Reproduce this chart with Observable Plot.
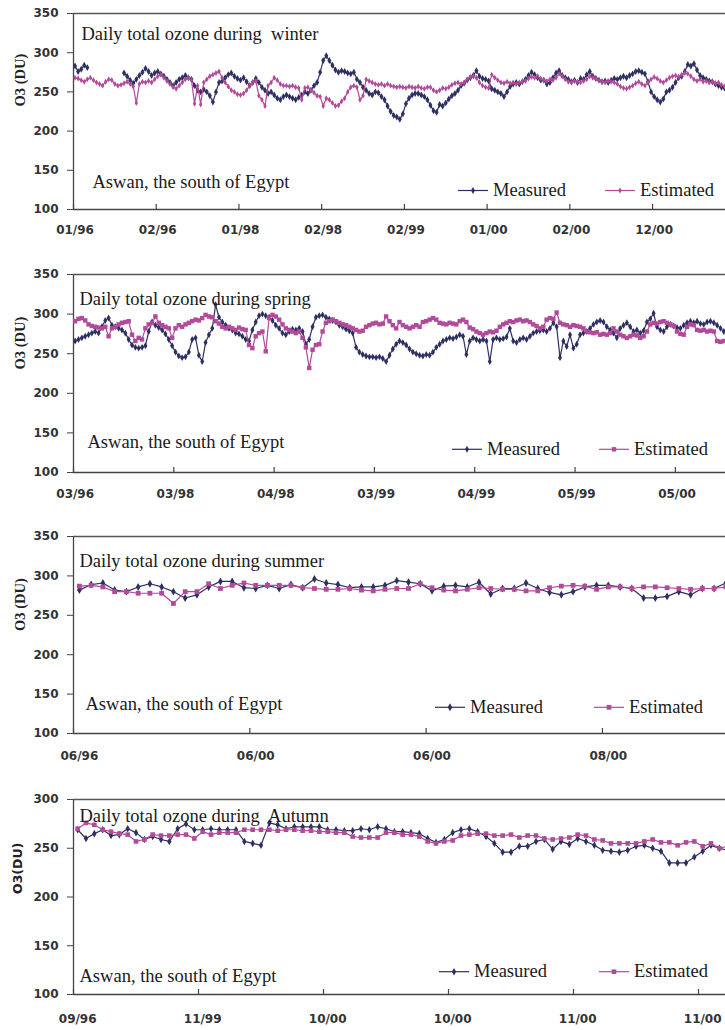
<!DOCTYPE html>
<html><head><meta charset="utf-8">
<script src="https://cdn.jsdelivr.net/npm/d3@7"></script>
<script src="https://cdn.jsdelivr.net/npm/@observablehq/plot@0.6"></script>
<style>
html,body{margin:0;padding:0;background:#fff;}
#wrap{position:relative;width:725px;height:1030px;overflow:hidden;background:#fff;}
.panel{position:absolute;left:0;}
</style></head><body><div id="wrap"></div>
<script>
// ---------- DATA ----------
const seriesNames = ["Measured", "Estimated"];
const placeText = "Aswan, the south of Egypt";

const winterLabels = ["01/96","02/96","01/98","02/98","02/99","01/00","02/00","12/00"];
const winterMeasured = [283,276,279,284,281,
 null,null,null,null,null,null,null,null,null,null,null,
 274,270,265,261,266,271,275,280,276,271,274,276,273,270,266,
 262,258,262,266,268,271,268,266,258,252,250,253,250,245,237,
 250,262,264,268,272,274,270,267,265,268,263,258,262,267,262,
 256,252,248,250,246,242,240,244,246,244,242,240,243,246,250,
 248,252,258,262,275,290,296,290,284,278,275,277,276,274,273,
 275,266,262,256,252,248,246,250,249,244,240,232,225,220,218,
 215,222,235,242,246,248,248,246,244,240,233,226,224,234,232,
 236,241,245,248,252,258,261,265,268,271,277,270,267,266,264,
 254,252,250,248,244,250,257,260,262,260,263,266,271,275,272,
 268,265,265,260,262,268,274,277,271,268,266,263,265,262,267,
 266,272,276,270,267,265,263,264,262,265,267,266,268,270,268,
 271,273,276,277,275,273,263,250,244,240,237,241,250,252,256,
 262,268,270,276,285,283,286,278,271,268,266,264,263,260,258,
 256,255,253,254];
const winterEstimated = [268,267,265,263,266,268,265,262,260,258,263,266,265,260,258,
 259,261,263,260,257,236,260,263,262,264,262,266,270,272,268,
 264,260,256,254,258,262,266,268,265,235,258,234,262,266,270,
 272,274,276,268,262,257,252,250,247,246,248,252,258,262,264,
 245,240,232,258,262,268,265,260,258,258,257,258,256,255,240,
 255,256,252,249,245,244,232,242,240,236,232,233,238,242,250,
 256,258,256,240,245,266,264,262,260,259,260,258,260,258,257,
 256,257,256,255,257,256,255,257,255,254,256,256,252,250,252,
 255,254,256,259,261,262,260,262,266,269,270,268,262,258,256,
 255,272,268,265,262,261,263,261,262,260,262,263,264,267,269,
 268,270,267,265,264,266,265,268,273,270,266,263,262,264,263,
 262,264,266,270,268,267,265,263,262,264,263,262,260,257,255,
 254,256,258,261,263,260,258,262,266,269,267,264,262,265,268,
 270,271,269,272,274,273,270,266,264,266,263,264,262,263,261,
 262,259,257,256,255];

const springLabels = ["03/96","03/98","04/98","03/99","04/99","05/99","05/00"];
const springMeasured = [266,268,270,272,274,276,278,276,284,292,295,286,284,282,280,
 276,268,261,258,257,258,260,278,290,286,283,280,275,268,260,
 252,247,245,246,252,268,270,248,240,264,274,282,312,296,290,
 286,282,280,276,275,272,268,266,280,290,298,300,298,296,292,
 286,282,276,274,278,281,280,282,278,262,268,284,296,298,299,
 296,294,292,290,286,284,281,279,276,258,252,249,247,246,246,
 245,246,244,240,248,256,262,266,264,261,256,252,250,248,247,
 249,248,252,258,262,266,268,270,269,271,274,272,249,266,270,
 268,266,268,266,240,268,270,268,269,271,282,266,264,268,270,
 268,272,276,278,279,280,278,282,289,284,245,266,259,274,257,
 262,274,276,278,282,287,290,292,290,284,280,276,270,282,286,
 289,284,278,280,276,279,290,294,301,284,280,278,284,287,285,
 283,282,286,289,291,289,291,288,287,290,291,289,286,282,278,280];
const springEstimated = [291,294,295,292,287,285,284,283,282,284,272,282,284,287,289,
 290,291,274,266,270,268,282,287,289,297,289,286,284,282,270,
 282,286,284,287,289,291,293,292,295,299,297,296,291,288,284,
 282,284,282,280,283,281,280,261,257,272,276,278,253,295,299,
 297,293,287,282,280,278,276,278,270,258,232,255,261,262,278,
 289,291,293,291,289,287,286,284,282,280,278,279,284,286,288,
 289,287,288,297,291,286,282,290,286,284,282,284,286,284,290,
 291,293,295,293,289,288,287,289,288,287,291,293,290,283,281,
 278,276,274,276,278,277,279,284,287,289,291,290,292,293,291,
 292,290,287,285,282,284,293,295,294,302,289,287,286,284,286,
 285,284,282,278,277,276,277,274,275,274,276,282,278,274,272,
 270,272,274,273,270,272,278,287,289,288,290,291,289,287,285,
 278,275,274,284,287,286,280,279,280,278,279,278,266,265,266,265];

const summerLabels = ["06/96","06/00","06/00","08/00"];
const summerMeasured = [282,289,291,282,280,286,290,286,280,272,276,286,293,293,285,
 284,288,284,289,285,296,291,289,285,286,286,288,294,292,290,
 281,287,288,286,292,277,284,284,291,284,279,276,280,286,288,
 288,286,284,272,272,274,280,276,284,284,291];
const summerEstimated = [287,288,286,280,280,278,278,278,265,280,280,290,284,288,291,
 288,288,288,288,285,284,283,283,284,282,281,283,284,284,290,
 285,282,281,283,285,284,283,283,281,281,285,287,288,287,283,
 286,286,284,286,286,285,284,283,284,284,286];

const autumnLabels = ["09/96","11/99","10/00","10/00","11/00","11/00"];
const autumnMeasured = [269,260,265,269,263,264,270,266,259,262,
 259,257,270,275,269,269,270,269,269,269,
 257,255,253,276,274,270,272,272,272,272,
 269,269,268,268,270,269,272,270,267,267,
 266,265,260,256,259,266,269,270,267,262,
 255,246,246,252,252,257,259,249,257,254,
 260,257,253,248,247,246,248,252,253,250,
 247,235,235,235,241,247,253,250,248];
const autumnEstimated = [270,276,274,269,267,265,264,257,259,264,
 263,263,264,264,260,267,264,266,266,266,
 269,269,269,269,268,269,269,268,268,267,
 267,266,266,262,261,261,261,266,266,264,
 264,262,257,255,257,258,263,264,265,265,
 263,263,264,261,263,263,260,259,260,261,
 264,263,259,258,255,255,255,255,257,259,
 256,256,253,256,257,252,255,250,252];

// ---------- STYLE / LAYOUT ----------
const NAVY = "#2e3062";
const MAG = "#b24a9a";
const SERIF = "'Liberation Serif','Times New Roman',serif";
const SANS = "'DejaVu Sans',Arial,sans-serif";

const panels = [
  {top:0, height:260, mt:13, mb:51, yMin:100, yMax:350, perTick:27, visible:212.8,
   M:winterMeasured, E:winterEstimated, labels:winterLabels,
   title:"Daily total ozone during\u00a0 winter", titleDx:8, titleDy:26, placeDx:19, placeDy:-22,
   ylabel:"O3 (DU)", ylabelFont:SERIF, ylabelSize:14.5, ylabelDy:-5, ylabelDx:-53,
   mR:2.1, eSym:"diamond", eR:1.8, legY:190.5, legM:458, legE:605, xPad:16},
  {top:260, height:260, mt:14, mb:48, yMin:100, yMax:350, perTick:30, visible:195.0,
   M:springMeasured, E:springEstimated, labels:springLabels,
   title:"Daily total ozone during spring", titleDx:6, titleDy:30, placeDx:14, placeDy:-25,
   ylabel:"O3 (DU)", ylabelFont:SERIF, ylabelSize:14.5, ylabelDy:-4, ylabelDx:-53,
   mR:2.1, eSym:"square", eR:2.5, legY:189.3, legM:452, legE:599, xPad:17},
  {top:520, height:260, mt:16, mb:47, yMin:100, yMax:350, perTick:15, visible:55.47,
   M:summerMeasured, E:summerEstimated, labels:summerLabels,
   title:"Daily total ozone during summer", titleDx:6, titleDy:30, placeDx:12, placeDy:-24,
   ylabel:"O3 (DU)", ylabelFont:SERIF, ylabelSize:14.5, ylabelDy:-4, ylabelDx:-53,
   mR:2.4, eSym:"square", eR:2.7, legY:187.3, legM:435, legE:594, xPad:18},
  {top:780, height:250, mt:19, mb:36, yMin:100, yMax:300, perTick:15, visible:78.24,
   M:autumnMeasured, E:autumnEstimated, labels:autumnLabels,
   title:"Daily total ozone during\u00a0 Autumn", titleDx:6, titleDy:22.5, placeDx:6, placeDy:-13,
   ylabel:"O3(DU)", ylabelFont:SANS, ylabelSize:12.5, ylabelDy:-3, ylabelDx:-56,
   mR:2.3, eSym:"square", eR:2.6, legY:191.7, legM:439, legE:599, xPad:20}
];

const wrap = document.getElementById("wrap");

for (const p of panels) {
  const toRows = arr => arr.map((v, i) => ({x: i + 0.5, y: v}));
  const mRows = toRows(p.M), eRows = toRows(p.E);
  const plotH = p.height - p.mt - p.mb;
  const tickDU = 5 * (p.yMax - p.yMin) / plotH;
  const tickPos = p.labels.map((_, k) => k * p.perTick);
  const labelPos = p.labels.map((_, k) => k * p.perTick + 0.5);
  const labelMap = new Map(labelPos.map((v, k) => [v, p.labels[k]]));

  const chart = Plot.plot({
    width: 725, height: p.height,
    marginLeft: 73, marginRight: 0, marginTop: p.mt, marginBottom: p.mb,
    style: {fontFamily: SANS, color: "#333", background: "white", overflow: "visible"},
    x: {domain: [0, p.visible], axis: null},
    y: {domain: [p.yMin, p.yMax], axis: null},
    marks: [
      Plot.axisY({ticks: d3.range(p.yMin, p.yMax + 1, 50), tickSize: 6, tickPadding: 9,
        fontSize: 12, fontWeight: "bold", label: null, stroke: "#444"}),
      Plot.axisX({ticks: labelPos, tickSize: 0, tickPadding: p.xPad, tickFormat: d => labelMap.get(d),
        fontSize: 12, fontWeight: "bold", label: null}),
      Plot.ruleX(tickPos, {x: d => d, y1: p.yMin, y2: p.yMin + tickDU, stroke: "#444", strokeWidth: 1.2}),
      Plot.ruleX([0], {stroke: "#444", strokeWidth: 1.3}),
      Plot.ruleY([p.yMin], {stroke: "#444", strokeWidth: 1.3}),
      Plot.ruleY([p.yMax], {stroke: "#555", strokeWidth: 1.3}),
      Plot.line(mRows, {x: "x", y: "y", stroke: NAVY, strokeWidth: 1.2, clip: true}),
      Plot.dot(mRows, {x: "x", y: "y", symbol: "diamond", r: p.mR, fill: NAVY, stroke: null, clip: true}),
      Plot.line(eRows, {x: "x", y: "y", stroke: MAG, strokeWidth: 1.2, clip: true}),
      Plot.dot(eRows, {x: "x", y: "y", symbol: p.eSym, r: p.eR, fill: MAG, stroke: null, clip: true}),
      Plot.text([p.title], {text: d => d, frameAnchor: "top-left", dx: p.titleDx, dy: p.titleDy,
        lineAnchor: "bottom", textAnchor: "start", fontFamily: SERIF, fontSize: 18.5, fill: "#1a1a1a"}),
      Plot.text([placeText], {text: d => d, frameAnchor: "bottom-left", dx: p.placeDx, dy: p.placeDy,
        lineAnchor: "bottom", textAnchor: "start", fontFamily: SERIF, fontSize: 18.5, fill: "#1a1a1a"}),
      Plot.text([p.ylabel], {text: d => d, frameAnchor: "left", dx: p.ylabelDx, dy: p.ylabelDy, rotate: -90,
        fontFamily: p.ylabelFont, fontWeight: "bold", fontSize: p.ylabelSize, fill: "#222"})
    ]
  });

  // in-plot legend
  const svg = d3.select(chart);
  const g = svg.append("g").attr("text-anchor", "start");
  const entries = [
    {name: seriesNames[0], color: NAVY, sym: d3.symbolDiamond, r: p.mR, x: p.legM},
    {name: seriesNames[1], color: MAG, sym: p.eSym === "square" ? d3.symbolSquare : d3.symbolDiamond, r: p.eR, x: p.legE}
  ];
  for (const e of entries) {
    g.append("line").attr("x1", e.x).attr("x2", e.x + 30).attr("y1", p.legY).attr("y2", p.legY)
      .attr("stroke", e.color).attr("stroke-width", 1.2);
    g.append("path").attr("d", d3.symbol(e.sym, e.r * e.r * Math.PI)())
      .attr("transform", `translate(${e.x + 15},${p.legY})`).attr("fill", e.color);
    g.append("text").attr("x", e.x + 35).attr("y", p.legY + 5.5).text(e.name)
      .attr("text-anchor", "start")
      .attr("font-family", SERIF).attr("font-size", 18.5).attr("fill", "#1a1a1a");
  }

  const div = document.createElement("div");
  div.className = "panel";
  div.style.top = p.top + "px";
  div.appendChild(chart);
  wrap.appendChild(div);
}
</script></body></html>
